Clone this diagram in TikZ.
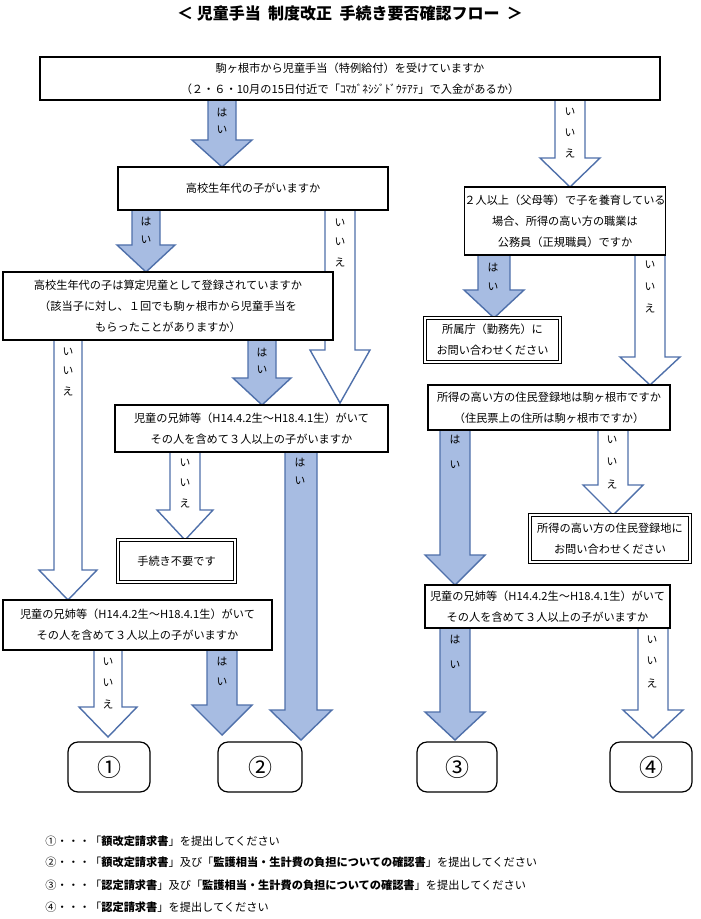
\documentclass[tikz,border=0pt]{standalone}
\usepackage{fontspec}
\setmainfont{Noto Sans CJK JP}
\definecolor{af}{HTML}{A7BCE2}
\definecolor{ab}{HTML}{4F70AA}
\tikzset{
  box/.style={draw=black,line width=0.6pt,fill=white,align=center,inner sep=0pt,font=\fontsize{5.6}{10.5}\selectfont},
  dbox/.style={box,double,double distance=1pt},
  yarr/.style={fill=af,draw=ab,line width=0.7pt},
  narr/.style={fill=white,draw=ab,line width=0.7pt},
  lab/.style={font=\fontsize{5.4}{6}\selectfont,inner sep=0pt},
  cbox/.style={draw=black,line width=0.6pt,rounded corners=5pt,inner sep=0pt,font=\fontsize{12}{12}\selectfont},
  note/.style={anchor=west,inner sep=0pt,font=\fontsize{5.6}{6}\selectfont}
}
\newcommand\bx[6][box]{\node[#1,minimum width={(#4-#2)*0.5pt},minimum height={(#5-#3)*0.5pt}] (#6) at ({(#2+#4)/2},{(#3+#5)/2})}
% style, cx, y0, y1(head start), halfshaft, halfhead, tip
\newcommand\barr[7]{\draw[#1] ({#2-#5},#3)--({#2-#5},#4)--({#2-#6},#4)--(#2,#7)--({#2+#6},#4)--({#2+#5},#4)--({#2+#5},#3)--cycle;}
\begin{document}
\begin{tikzpicture}[x=0.5pt,y=-0.5pt]
\useasboundingbox[fill=white] (0,0) rectangle (700,919);
\node[font=\bfseries\fontsize{8}{8}\selectfont] (title) at (350,13) {＜\ 児童手当\ \ 制度改正\ \ 手続き要否確認フロー\ \ ＞};
% arrows first (behind boxes)
\barr{yarr}{222}{100}{140}{14}{30}{167}
\barr{narr}{570}{100}{158}{15}{30}{187}
\barr{yarr}{146}{210}{245}{14}{29}{272}
\barr{narr}{340}{210}{350}{15}{30}{403}
\barr{narr}{68}{340}{570}{14}{29}{600}
\barr{yarr}{262}{340}{378}{14}{29}{405}
\barr{narr}{185}{452}{510}{15}{28}{540}
\barr{yarr}{301}{452}{710}{16}{31}{740}
\barr{narr}{108}{650}{707}{14}{29}{737}
\barr{yarr}{222}{650}{705}{15}{30}{735}
\barr{yarr}{494}{255}{290}{16}{30}{318}
\barr{narr}{650}{255}{357}{15}{30}{385}
\barr{yarr}{455}{430}{555}{15}{30}{585}
\barr{narr}{613}{430}{485}{15}{30}{515}
\barr{yarr}{455}{628}{712}{15}{30}{740}
\barr{narr}{653}{628}{710}{15}{30}{738}
% labels
\foreach \x/\ys/\t in {222/113/は,222/130/い,146/222/は,146/240/い,262/353/は,262/370/い,300/463/は,300/481/い,222/662/は,222/682/い,493/268/は,493/287/い,455/440/は,455/465/い,455/640/は,455/665/い}
  \node[lab] at (\x,\ys) {\t};
\foreach \x/\ys/\t in {570/112/い,570/133/い,570/153/え,340/223/い,340/242/い,340/262/え,68/352/い,68/371/い,68/391/え,185/463/い,185/483/い,185/503/え,108/662/い,108/683/い,108/704/え,650/265/い,650/287/い,650/308/え,612/440/い,612/462/い,612/484/え,652/640/い,652/661/い,652/683/え}
  \node[lab] at (\x,\ys) {\t};
% boxes
\bx{40}{57}{660}{100}{A} {駒ヶ根市から児童手当（特例給付）を受けていますか\\（２・６・10月の15日付近で「ｺﾏｶﾞﾈｼｼﾞﾄﾞｳﾃｱﾃ」で入金があるか）};
\bx{118}{167}{388}{210}{B} {高校生年代の子がいますか};
\bx{465}{187}{665}{255}{C} {２人以上（父母等）で子を養育している\\場合、所得の高い方の職業は\\公務員（正規職員）ですか};
\bx{3}{272}{333}{340}{D} {高校生年代の子は算定児童として登録されていますか\\（該当子に対し、１回でも駒ヶ根市から児童手当を\\もらったことがありますか）};
\bx[dbox]{425}{318}{560}{362}{H} {所属庁（勤務先）に\\お問い合わせください};
\bx{428}{385}{670}{430}{I} {所得の高い方の住民登録地は駒ヶ根市ですか\\（住民票上の住所は駒ヶ根市ですか）};
\bx{115}{405}{388}{452}{E} {児童の兄姉等（H14.4.2生～H18.4.1生）がいて\\その人を含めて３人以上の子がいますか};
\bx[dbox]{530}{515}{690}{562}{J} {所得の高い方の住民登録地に\\お問い合わせください};
\bx[dbox]{118}{540}{235}{582}{F} {手続き不要です};
\bx{425}{585}{670}{628}{K} {児童の兄姉等（H14.4.2生～H18.4.1生）がいて\\その人を含めて３人以上の子がいますか};
\bx{3}{600}{272}{650}{G} {児童の兄姉等（H14.4.2生～H18.4.1生）がいて\\その人を含めて３人以上の子がいますか};
% result boxes
\node[cbox,minimum width=41pt,minimum height=25pt] (r1) at (109,767) {①};
\node[cbox,minimum width=42pt,minimum height=25pt] (r2) at (260,767) {②};
\node[cbox,minimum width=40pt,minimum height=25pt] (r3) at (457,767) {③};
\node[cbox,minimum width=41pt,minimum height=25pt] (r4) at (651,767) {④};
% notes
\node[note] (n1) at (45,841) {①・・・「\textbf{額改定請求書}」を提出してください};
\node[note] (n2) at (45,862) {②・・・「\textbf{額改定請求書}」及び「\textbf{監護相当・生計費の負担についての確認書}」を提出してください};
\node[note] (n3) at (45,885) {③・・・「\textbf{認定請求書}」及び「\textbf{監護相当・生計費の負担についての確認書}」を提出してください};
\node[note] (n4) at (45,907) {④・・・「\textbf{認定請求書}」を提出してください};
\end{tikzpicture}
\end{document}
